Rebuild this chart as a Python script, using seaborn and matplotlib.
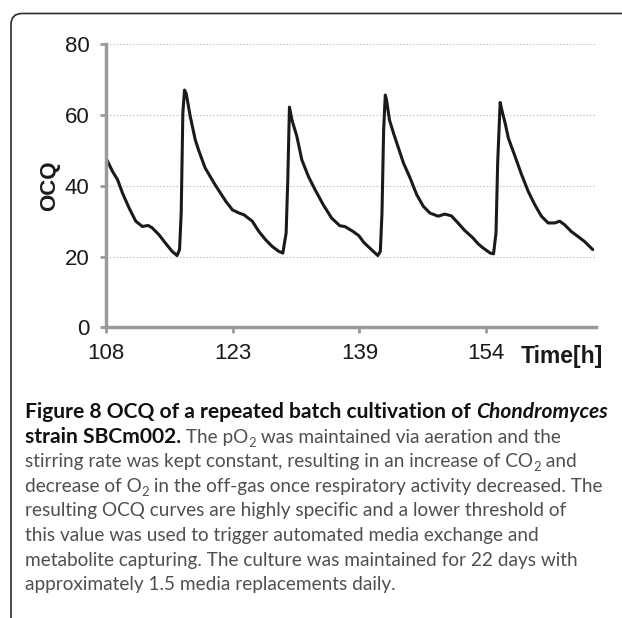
import matplotlib
matplotlib.use("Agg")
import matplotlib.pyplot as plt
from matplotlib.patches import FancyBboxPatch
import seaborn as sns
import pandas as pd

# OCQ trace of the repeated batch cultivation (time in hours)
time_h = [
    108.0, 108.8, 109.4, 110.0, 110.8, 111.6, 112.4, 113.1, 113.6, 114.4,
    115.2, 116.0, 116.6, 116.9, 117.1, 117.3, 117.5, 117.7, 118.2, 118.8,
    119.2, 120.0, 121.2, 122.5, 123.3, 124.1, 124.7, 125.7, 126.5, 127.3,
    128.1, 128.9, 129.4, 129.8, 130.0, 130.2, 130.5, 131.1, 131.7, 132.5,
    133.3, 134.3, 135.3, 136.3, 136.9, 137.9, 138.6, 139.2, 140.2, 140.9,
    141.2, 141.4, 141.6, 141.8, 141.95, 142.3, 142.8, 143.2, 144.0, 144.8,
    145.6, 146.4, 147.2, 148.2, 149.0, 149.8, 150.6, 151.4, 152.4, 153.0,
    153.6, 154.5, 154.9, 155.2, 155.4, 155.7, 155.9, 156.3, 156.7, 157.5,
    158.3, 159.1, 159.9, 160.7, 161.5, 162.3, 162.9, 163.5, 164.3, 165.1,
    165.9, 166.9,
]
ocq = [
    47.8, 44.0, 41.7, 37.9, 33.7, 30.0, 28.5, 28.8, 28.1, 26.2,
    23.8, 21.5, 20.3, 22.0, 32.3, 60.5, 67.0, 66.1, 59.5, 53.0,
    50.1, 45.0, 40.3, 35.6, 33.2, 32.3, 31.8, 30.0, 27.1, 24.8,
    22.9, 21.5, 21.0, 26.7, 41.7, 62.2, 58.6, 53.9, 47.3, 42.6,
    38.9, 34.6, 30.9, 28.7, 28.5, 27.1, 25.9, 24.0, 21.8, 20.3,
    21.5, 32.3, 55.8, 65.6, 64.2, 58.6, 54.8, 52.0, 46.4, 42.2,
    37.5, 34.2, 32.3, 31.4, 32.0, 31.5, 29.5, 27.4, 25.3, 23.7,
    22.5, 21.0, 20.8, 26.7, 46.4, 63.5, 61.4, 57.7, 53.4, 48.3,
    43.1, 38.4, 34.6, 31.4, 29.5, 29.5, 30.0, 29.0, 27.1, 25.7,
    24.3, 22.0,
]
x_tick_pos = [108.0, 123.33, 138.67, 154.0]
x_tick_labels = ["108", "123", "139", "154"]
y_ticks = [0, 20, 40, 60, 80]

caption = [
    [("Figure 8 OCQ of a repeated batch cultivation of ", "bold", "normal", False),
     ("Chondromyces", "bold", "italic", False)],
    [("strain SBCm002.", "bold", "normal", False),
     (" The pO", "normal", "normal", False), ("2", "normal", "normal", True),
     (" was maintained via aeration and the", "normal", "normal", False)],
    [("stirring rate was kept constant, resulting in an increase of CO", "normal", "normal", False),
     ("2", "normal", "normal", True), (" and", "normal", "normal", False)],
    [("decrease of O", "normal", "normal", False), ("2", "normal", "normal", True),
     (" in the off-gas once respiratory activity decreased. The", "normal", "normal", False)],
    [("resulting OCQ curves are highly specific and a lower threshold of", "normal", "normal", False)],
    [("this value was used to trigger automated media exchange and", "normal", "normal", False)],
    [("metabolite capturing. The culture was maintained for 22 days with", "normal", "normal", False)],
    [("approximately 1.5 media replacements daily.", "normal", "normal", False)],
]

sns.set_style("white")
plt.rcParams["font.family"] = ["Liberation Sans", "DejaVu Sans"]

W, H = 622, 618
fig = plt.figure(figsize=(W / 100, H / 100), dpi=100)
ax = fig.add_axes([106 / W, 1 - 327.5 / H, (596 - 106) / W, (327.5 - 44) / H])

df = pd.DataFrame({"Time": time_h, "OCQ": ocq})
sns.lineplot(data=df, x="Time", y="OCQ", ax=ax, color="#1a1a1a", linewidth=2.2,
             estimator=None, sort=False)

ax.set_xlim(108, 167.3)
ax.set_ylim(0, 80)
ax.set_yticks(y_ticks)
ax.set_xticks(x_tick_pos)
ax.set_xticklabels(x_tick_labels)

for v in y_ticks[1:]:
    ax.axhline(v, color="#c8c8c8", linewidth=0.8, linestyle=(0, (1.5, 1.5)), zorder=0)

axis_grey = "#9a9a9a"
for side in ("top", "right"):
    ax.spines[side].set_visible(False)
for side in ("left", "bottom"):
    ax.spines[side].set_color(axis_grey)
    ax.spines[side].set_linewidth(2.5)
ax.tick_params(axis="both", which="both", direction="out", color=axis_grey,
               width=2.0, length=4, labelsize=16, labelcolor="#1a1a1a",
               left=True, bottom=True)
ax.tick_params(axis="y", pad=8)
ax.tick_params(axis="x", pad=7)

ax.set_xlabel("")
ax.set_ylabel("OCQ", fontsize=16, fontweight="bold", labelpad=3, color="#1a1a1a")
ax.text(562 / W, 1 - 356 / H, "Time[h]", transform=fig.transFigure, ha="center",
        va="center", fontsize=16.5, fontweight="bold", color="#1a1a1a")

# Frame around figure and caption
frame = FancyBboxPatch((11, -12), 700, 618 - 13.5 + 12,
                       boxstyle="round,pad=0,rounding_size=11",
                       transform=None, facecolor="none", edgecolor="#2b2b2b",
                       linewidth=1.2)
fig.add_artist(frame)

# Caption, laid out piece by piece
renderer = fig.canvas.get_renderer()
cap_font = ["Lato", "DejaVu Sans"]


def piece_width(txt, weight, style, size):
    t = fig.text(0, 0, txt, fontsize=size, fontweight=weight, fontstyle=style,
                 family=cap_font)
    w = t.get_window_extent(renderer).width
    t.remove()
    return w


def line_width(pieces, size):
    return sum(piece_width(txt, weight, style, size * (0.68 if sub else 1.0))
               for txt, weight, style, sub in pieces)


base_size = 12.0
size_regular = base_size * 579.0 / line_width(caption[3], base_size)
size_bold = base_size * 580.0 / line_width(caption[0], base_size)

x0 = 25
baseline0 = 418
pitch = 24.6
for i, pieces in enumerate(caption):
    x = x0
    y = H - (baseline0 + i * pitch)
    for txt, weight, style, sub in pieces:
        base = size_bold if weight == "bold" else size_regular
        fs = base * (0.68 if sub else 1.0)
        color = "#111111" if weight == "bold" else "#4f4f4f"
        yy = y - (4 if sub else 0)
        t = fig.text(x / W, yy / H, txt, fontsize=fs, fontweight=weight,
                     fontstyle=style, family=cap_font, color=color,
                     ha="left", va="baseline")
        x += t.get_window_extent(renderer).width

fig.savefig("out.png", dpi=100)
